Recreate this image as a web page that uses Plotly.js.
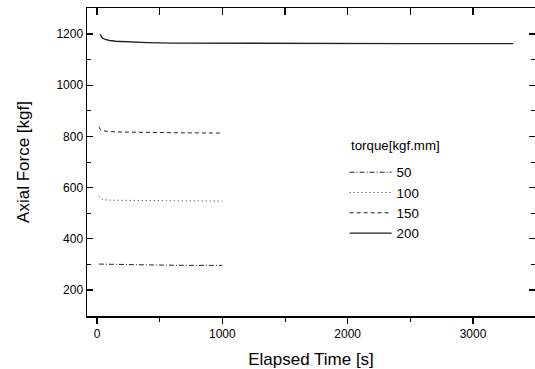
<!DOCTYPE html>
<html>
<head>
<meta charset="utf-8">
<script src="https://cdn.plot.ly/plotly-3.0.1.min.js"></script>
<style>html,body{margin:0;padding:0;background:#fff;}#chart{width:535px;height:369px;}</style>
</head>
<body>
<div id="chart"></div>
<script>
// Data
const seriesNames = ["50", "100", "150", "200"];
const t50 = [15, 100, 300, 500, 700, 1000];
const f50 = [301, 300, 299, 297, 296, 296];
const t100 = [15, 25, 50, 100, 200, 400, 700, 1000];
const f100 = [565, 558, 553, 551, 550, 549, 548, 547];
const t150 = [15, 25, 50, 100, 200, 400, 700, 1000];
const f150 = [838, 828, 822, 819, 817, 815, 814, 813];
const t200 = [25, 30, 40, 60, 100, 150, 250, 400, 600, 1000, 1500, 2000, 2500, 3000, 3320];
const f200 = [1200, 1195, 1186, 1180, 1175, 1172, 1169, 1167, 1165, 1164, 1163, 1163, 1163, 1163, 1163];
const xTickVals = [0, 1000, 2000, 3000];
const yTickVals = [200, 400, 600, 800, 1000, 1200];

const FONT = "Liberation Sans, Arial, Helvetica, sans-serif";
const xRange = [-80, 3495];
const yRange = [98, 1302];

const traces = [
  {x: t50, y: f50, name: seriesNames[0], mode: "lines", line: {color: "#222", width: 1, dash: "5px,2px,1px,2px"}},
  {x: t100, y: f100, name: seriesNames[1], mode: "lines", line: {color: "#222", width: 1, dash: "1px,3px"}},
  {x: t150, y: f150, name: seriesNames[2], mode: "lines", line: {color: "#222", width: 1, dash: "4px,3px"}},
  {x: t200, y: f200, name: seriesNames[3], mode: "lines", xaxis: "x2", line: {color: "#222", width: 1.3}}
];

const layout = {
  width: 535, height: 369,
  margin: {l: 87, r: 0, t: 8, b: 53, pad: 0},
  paper_bgcolor: "#fff", plot_bgcolor: "rgba(0,0,0,0)",
  font: {family: FONT, color: "#000", size: 12},
  showlegend: true,
  legend: {
    x: 0.575, y: 0.516, xanchor: "left", yanchor: "top",
    bgcolor: "rgba(0,0,0,0)", borderwidth: 0,
    font: {family: FONT, size: 13.3, color: "#000"},
    itemwidth: 42, tracegroupgap: 0
  },
  annotations: [{
    text: "torque[kgf.mm]", xref: "paper", yref: "paper",
    x: 0.585, y: 0.555, xanchor: "left", yanchor: "middle", showarrow: false,
    font: {family: FONT, size: 13.3, color: "#000"}
  }],
  xaxis: {
    range: xRange, showgrid: false, zeroline: false,
    showline: true, linecolor: "#000", linewidth: 1.5,
    ticks: "outside", ticklen: 6, tickwidth: 1.2, tickcolor: "#000",
    tickvals: xTickVals, ticktext: xTickVals.map(String),
    minor: {tickvals: [500, 1500, 2500, 3500], ticks: "outside", ticklen: 4, tickwidth: 1, tickcolor: "#000"},
    tickfont: {family: FONT, size: 12},
    title: {text: "Elapsed Time [s]", font: {family: FONT, size: 17}, standoff: 13}
  },
  xaxis2: {
    range: xRange, overlaying: "x", side: "top", anchor: "y",
    showgrid: false, zeroline: false, showticklabels: false,
    showline: true, linecolor: "#000", linewidth: 1.5,
    ticks: "inside", ticklen: 7, tickwidth: 1.5, tickcolor: "#000",
    tickmode: "array", tickvals: [0, 500, 1000, 1500, 2000, 2500, 3000, 3500]
  },
  yaxis: {
    range: yRange, showgrid: false, zeroline: false,
    showline: true, linecolor: "#000", linewidth: 1.5, mirror: "ticks",
    ticks: "inside", ticklen: 6, tickwidth: 1.2, tickcolor: "#000",
    tickvals: yTickVals, ticktext: yTickVals.map(String),
    minor: {tickvals: [100, 300, 500, 700, 900, 1100, 1300], ticks: "inside", ticklen: 4, tickwidth: 1, tickcolor: "#000"},
    tickfont: {family: FONT, size: 12},
    title: {text: "Axial Force [kgf]", font: {family: FONT, size: 17}, standoff: 22}
  }
};

Plotly.newPlot("chart", traces, layout, {displayModeBar: false, staticPlot: true});
</script>
</body>
</html>
